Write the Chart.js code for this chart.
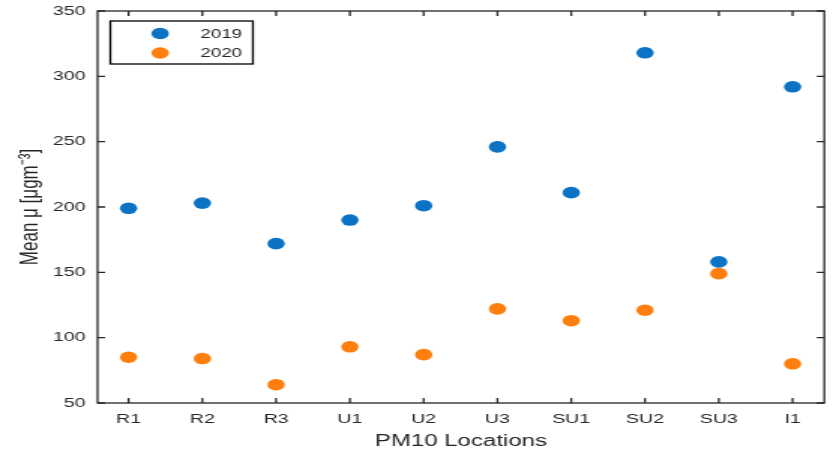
<!DOCTYPE html>
<html>
<head>
<meta charset="utf-8">
<script src="https://cdn.jsdelivr.net/npm/chart.js@4"></script>
<style>
html,body{margin:0;padding:0;background:#fff;overflow:hidden;width:833px;height:455px;}
#wrap{width:555px;height:455px;transform:scaleX(1.5009);transform-origin:0 0;}
#c{display:block;}
</style>
</head>
<body>
<div id="wrap"><canvas id="c" width="555" height="455"></canvas></div>
<script>
const categories = ['R1','R2','R3','U1','U2','U3','SU1','SU2','SU3','I1'];
const values2019 = [199, 203, 172, 190, 201, 246, 211, 318, 158, 292];
const values2020 = [85, 84, 64, 93, 87, 122, 113, 121, 149, 80];
const seriesLabels = ['2019', '2020'];
const yTicks = [50, 100, 150, 200, 250, 300, 350];

const BLUE = '#0b72c4';
const ORANGE = '#ff7f0e';
const AXIS = '#262626';
const TEXT = '#262626';
const FONT = '"Liberation Sans", Arial, sans-serif';

const toPts = arr => arr.map((v,i)=>({x:i+1, y:v}));

const boxPlugin = {
  id:'box',
  afterDraw(chart){
    const {ctx, chartArea:a, scales} = chart;
    ctx.save();
    ctx.strokeStyle = AXIS;
    ctx.lineWidth = 1.3;
    ctx.strokeRect(a.left, a.top, a.right-a.left, a.bottom-a.top);
    const L = 5;
    ctx.beginPath();
    scales.x.ticks.forEach(t=>{
      const px = scales.x.getPixelForValue(t.value);
      ctx.moveTo(px, a.bottom); ctx.lineTo(px, a.bottom-L);
      ctx.moveTo(px, a.top); ctx.lineTo(px, a.top+L);
    });
    scales.y.ticks.forEach(t=>{
      const py = scales.y.getPixelForValue(t.value);
      ctx.moveTo(a.left, py); ctx.lineTo(a.left+L, py);
      ctx.moveTo(a.right, py); ctx.lineTo(a.right-L, py);
    });
    ctx.stroke();
    // legend
    const lx = 73.5, ly = 21, lw = 95, lh = 43;
    ctx.fillStyle = '#fff';
    ctx.fillRect(lx, ly, lw, lh);
    ctx.strokeStyle = '#000';
    ctx.lineWidth = 1.3;
    ctx.strokeRect(lx, ly, lw, lh);
    ctx.font = '12.5px ' + FONT;
    ctx.textAlign = 'right';
    ctx.textBaseline = 'middle';
    chart.data.datasets.forEach((ds,i)=>{
      const cy = 33.5 + i*19.5;
      ctx.fillStyle = ds.backgroundColor;
      ctx.beginPath();
      ctx.arc(106.7, cy, 5.8, 0, Math.PI*2);
      ctx.fill();
      ctx.fillStyle = TEXT;
      ctx.fillText(ds.label, 161.3, cy+1);
    });
    ctx.restore();
  }
};

new Chart(document.getElementById('c'), {
  type:'scatter',
  data:{
    datasets:[
      {label:seriesLabels[0], data:toPts(values2019), pointStyle:'circle', pointRadius:5.8, borderWidth:0, backgroundColor:BLUE, borderColor:BLUE},
      {label:seriesLabels[1], data:toPts(values2020), pointStyle:'circle', pointRadius:5.8, borderWidth:0, backgroundColor:ORANGE, borderColor:ORANGE}
    ]
  },
  options:{
    responsive:false,
    animation:false,
    events:[],
    layout:{padding:{top:11, right:5, left:0, bottom:0}},
    plugins:{legend:{display:false}, tooltip:{enabled:false}},
    scales:{
      x:{
        type:'linear', min:0.58, max:10.43,
        afterBuildTicks: s => { s.ticks = categories.map((c,i)=>({value:i+1})); },
        afterFit: s => { s.height = 52; s.paddingLeft = 0; s.paddingRight = 0; },
        grid:{display:false, drawTicks:false},
        border:{display:false},
        ticks:{padding:9, autoSkip:false, maxRotation:0, color:TEXT, font:{family:FONT, size:13},
          callback:(v)=>categories[Math.round(v)-1] ?? ''},
        title:{display:true, text:'PM10 Locations', color:TEXT, font:{family:FONT, size:16}, padding:{top:1}}
      },
      y:{
        min:50, max:350,
        afterBuildTicks: s => { s.ticks = yTicks.map(v=>({value:v})); },
        afterFit: s => { s.width = 65; s.paddingTop = 0; s.paddingBottom = 0; },
        grid:{display:false, drawTicks:false},
        border:{display:false},
        ticks:{padding:8, color:TEXT, font:{family:FONT, size:13}},
        title:{display:true, text:'Mean μ [μgm⁻³]', color:TEXT, font:{family:FONT, size:17}, padding:{top:10, bottom:0}}
      }
    }
  },
  plugins:[boxPlugin]
});
</script>
</body>
</html>
